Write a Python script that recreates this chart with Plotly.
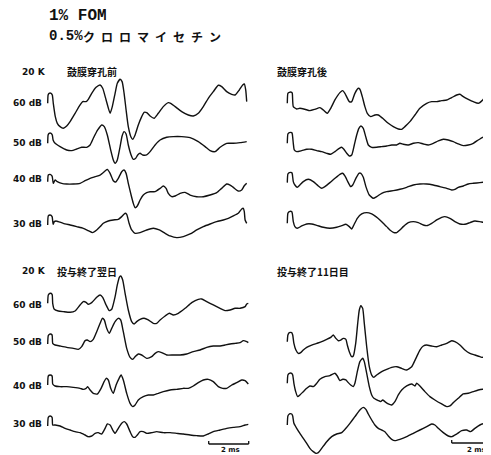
import plotly.graph_objects as go

# ---------------- text ----------------
TITLE_LINE1 = "1% FOM"
TITLE_LINE2_A = "0.5%"
TITLE_LINE2_B = ["ク", "ロ", "ロ", "マ", "イ", "セ", "チ", "ン"]
FREQ_LABEL = "20 K"
PANEL_TITLES = ["鼓膜穿孔前", "鼓膜穿孔後", "投与終了翌日", "投与終了11日目"]
LEVEL_LABELS = ["60 dB", "50 dB", "40 dB", "30 dB"]
SCALE_LABEL = "2 ms"
SCALE_MS = 2.0

# ---------------- waveforms: (time ms, amplitude a.u.) ----------------
# panel 1: before perforation
P1_60 = [(0,0),(.02,25),(.07,30),(.17,30),(.23,25),(.28,0),(.38,-40),(.48,-60),(.62,-70),(.78,-75),
         (.95,-68),(1.12,-55),(1.37,-30),(1.62,-5),(1.75,5),(1.92,5),(2.03,12),(2.2,30),(2.42,48),(2.62,55),
         (2.75,45),(2.92,10),(3.12,-30),(3.23,-10),(3.37,30),(3.48,60),(3.62,72),(3.72,65),(3.82,30),(3.92,-20),
         (4.03,-70),(4.17,-102),(4.25,-108),(4.37,-95),(4.53,-65),(4.7,-40),(4.82,-27),(4.95,-28),(5.12,-38),(5.32,-45),
         (5.53,-30),(5.78,-10),(6.03,2),(6.15,0),(6.37,-10),(6.7,-25),(7.03,-35),(7.28,-38),(7.53,-30),(7.78,-10),
         (8.03,15),(8.28,35),(8.53,54),(8.7,50),(8.95,35),(9.2,27),(9.37,25),(9.58,40),(9.75,55),(9.83,58),
         (9.9,40),(9.95,5)]
P1_50 = [(0,0),(.02,25),(.07,30),(.17,30),(.23,25),(.27,10),(.37,0),(.62,-10),(.95,-20),(1.2,-22),
         (1.45,-17),(1.7,-12),(1.95,-12),(2.12,-5),(2.28,15),(2.5,40),(2.7,55),(2.83,50),(2.98,25),(3.15,-20),
         (3.28,-50),(3.37,-60),(3.48,-50),(3.62,-10),(3.72,22),(3.82,35),(3.92,28),(4.03,-5),(4.17,-35),(4.28,-48),
         (4.4,-45),(4.5,-35),(4.62,-30),(4.75,-35),(4.95,-35),(5.12,-25),(5.37,-5),(5.62,10),(5.95,18),(6.28,20),
         (6.7,20),(7.12,17),(7.53,5),(7.87,-10),(8.12,-22),(8.37,-25),(8.62,-12),(8.95,0),(9.28,0),(9.62,2),(9.95,5)]
P1_40 = [(0,0),(.03,20),(.12,22),(.22,17),(.28,-5),(.37,5),(.48,0),(.7,-5),(.95,-7),(1.28,-7),
         (1.62,-5),(1.87,3),(2.12,10),(2.37,15),(2.62,20),(2.87,32),(2.98,37),(3.12,25),(3.28,3),(3.4,-1),
         (3.53,10),(3.7,30),(3.82,35),(3.92,25),(4.03,-5),(4.17,-40),(4.28,-65),(4.37,-78),(4.48,-73),(4.62,-55),
         (4.78,-40),(4.95,-33),(5.12,-30),(5.37,-30),(5.62,-20),(5.78,-13),(5.92,-20),(6.03,-35),(6.2,-45),(6.37,-43),
         (6.62,-35),(6.87,-32),(7.12,-40),(7.45,-45),(7.78,-45),(8.12,-40),(8.45,-33),(8.7,-20),(8.95,-7),(9.12,-10),
         (9.28,-17),(9.53,-28),(9.7,-25),(9.82,-13),(9.95,-5)]
P1_30 = [(0,-2),(.03,25),(.12,28),(.22,23),(.27,0),(.33,8),(.42,10),(.53,8),(.78,3),(1.12,-2),
         (1.45,-7),(1.78,-12),(2.03,-19),(2.25,-25),(2.45,-17),(2.62,-7),(2.78,3),(3.03,10),(3.28,13),(3.53,15),
         (3.7,23),(3.87,33),(3.95,30),(4.07,3),(4.2,-17),(4.37,-27),(4.62,-25),(4.95,-17),(5.28,-12),(5.58,-17),
         (5.87,-27),(6.12,-35),(6.45,-40),(6.78,-37),(7.12,-29),(7.45,-17),(7.78,-7),(8.12,1),(8.45,8),(8.78,13),
         (9.03,18),(9.28,25),(9.53,33),(9.7,46),(9.78,48),(9.83,38),(9.87,13),(9.95,3)]

# panel 2: after perforation
P2_60 = [(0,0),(.03,30),(.1,33),(.22,33),(.25,30),(.3,-10),(.47,-17),(.63,-15),(.88,-18),(1.13,-22),
         (1.38,-18),(1.63,-13),(1.8,-20),(2.0,-30),(2.17,-15),(2.38,10),(2.63,32),(2.77,38),(2.88,30),(3.1,5),
         (3.22,5),(3.38,30),(3.55,45),(3.63,42),(3.75,20),(3.88,-10),(4.0,-30),(4.17,-40),(4.38,-35),(4.55,-35),
         (4.77,-45),(5.05,-60),(5.3,-70),(5.55,-77),(5.72,-78),(5.88,-70),(6.13,-55),(6.38,-35),(6.63,-15),(6.97,0),
         (7.22,5),(7.47,5),(7.72,8),(7.97,10),(8.22,17),(8.47,25),(8.63,27),(8.8,20),(9.05,12),(9.3,5),
         (9.55,0),(9.77,10),(9.88,18),(9.97,15),(10.02,0)]
P2_50 = [(0,0),(.03,28),(.1,32),(.22,32),(.25,28),(.3,0),(.35,-20),(.47,-25),(.72,-22),(.97,-18),
         (1.22,-18),(1.47,-22),(1.72,-25),(1.97,-30),(2.17,-33),(2.38,-25),(2.6,-15),(2.72,-12),(2.83,-18),(2.97,-30),
         (3.1,-38),(3.22,-35),(3.35,-5),(3.47,25),(3.58,45),(3.68,52),(3.8,45),(3.92,20),(4.05,-5),(4.22,-12),
         (4.47,-12),(4.72,-10),(4.97,-8),(5.22,-5),(5.47,-5),(5.63,0),(5.8,-3),(6.05,-5),(6.3,0),(6.55,2),
         (6.8,-2),(7.05,-5),(7.3,0),(7.55,7),(7.8,12),(8.05,10),(8.3,5),(8.55,-2),(8.8,-7),(9.05,-5),
         (9.3,0),(9.55,10),(9.77,18),(9.88,20),(10.0,10),(10.05,2)]
P2_40 = [(0,2),(.03,28),(.1,32),(.22,32),(.25,28),(.3,5),(.38,-5),(.5,-12),(.63,-5),(.8,5),
         (1.05,12),(1.3,5),(1.55,-8),(1.72,-15),(1.88,-10),(2.13,2),(2.38,15),(2.63,27),(2.77,30),(2.88,22),
         (3.05,2),(3.17,-10),(3.27,-5),(3.43,15),(3.58,30),(3.68,30),(3.8,18),(3.93,-10),(4.1,-35),(4.3,-45),
         (4.47,-40),(4.72,-30),(4.97,-25),(5.3,-22),(5.63,-18),(5.97,-12),(6.3,-5),(6.63,-2),(6.97,-2),(7.3,-5),
         (7.63,-10),(7.97,-15),(8.22,-20),(8.38,-18),(8.55,-12),(8.8,-8),(9.05,-2),(9.3,0),(9.63,2),(10.05,5)]
P2_30 = [(0,0),(.03,30),(.1,35),(.22,35),(.25,30),(.3,5),(.38,-10),(.5,-15),(.72,-8),(.97,-2),
         (1.22,-2),(1.47,-6),(1.8,-12),(2.13,-15),(2.47,-12),(2.72,-7),(2.93,-3),(3.1,-10),(3.22,-17),(3.33,-5),
         (3.5,15),(3.72,28),(3.97,32),(4.22,28),(4.43,20),(4.63,10),(4.8,0),(4.97,-10),(5.13,-20),(5.3,-27),
         (5.47,-28),(5.63,-20),(5.8,-10),(6.05,2),(6.3,5),(6.55,2),(6.8,-5),(6.97,-7),(7.22,0),(7.47,10),
         (7.72,18),(7.88,20),(8.13,15),(8.38,5),(8.63,-2),(8.88,-3),(9.13,2),(9.38,7),(9.63,5),(9.88,2),(10.05,2)]

# panel 3: day after end of administration
P3_60 = [(0,0),(.03,25),(.12,30),(.22,27),(.25,0),(.33,-18),(.53,-23),(.78,-25),(1.12,-27),(1.37,-23),
         (1.62,-5),(1.78,5),(1.92,3),(2.03,-3),(2.2,2),(2.45,18),(2.62,25),(2.75,18),(2.92,-5),(3.08,-22),
         (3.2,-18),(3.37,20),(3.48,55),(3.58,78),(3.65,82),(3.75,70),(3.87,30),(4.03,-20),(4.2,-55),(4.32,-62),
         (4.45,-55),(4.62,-48),(4.82,-45),(5.03,-50),(5.28,-60),(5.45,-60),(5.62,-50),(5.87,-38),(6.08,-30),(6.28,-35),
         (6.53,-30),(6.87,-15),(7.2,2),(7.53,12),(7.7,13),(7.95,5),(8.28,-5),(8.62,-15),(8.87,-22),(9.12,-20),
         (9.37,-15),(9.62,-15),(9.87,-10),(9.95,-2),(10.03,0)]
P3_50 = [(0,0),(.03,25),(.12,30),(.22,27),(.25,2),(.37,-3),(.62,-6),(.95,-10),(1.28,-13),(1.53,-16),
         (1.7,-8),(1.87,10),(1.98,12),(2.12,7),(2.28,14),(2.45,37),(2.62,62),(2.73,77),(2.83,72),(2.95,47),
         (3.08,32),(3.2,47),(3.37,67),(3.53,77),(3.65,72),(3.78,37),(3.95,-13),(4.12,-40),(4.25,-46),(4.37,-38),
         (4.53,-30),(4.7,-33),(4.95,-43),(5.2,-38),(5.37,-28),(5.53,-23),(5.7,-26),(5.95,-33),(6.28,-33),(6.62,-33),
         (6.95,-30),(7.28,-23),(7.62,-18),(7.95,-10),(8.28,-6),(8.62,-6),(8.87,-3),(9.12,0),(9.37,2),(9.62,4),
         (9.78,10),(9.95,7),(10.03,4)]
P3_40 = [(0,0),(.03,27),(.12,30),(.22,27),(.25,3),(.37,-3),(.62,-5),(.95,-5),(1.28,-7),(1.62,-10),
         (1.78,-13),(1.92,-10),(2.0,-5),(2.12,-15),(2.28,-25),(2.48,-27),(2.67,-10),(2.82,10),(2.92,20),(3.03,15),
         (3.15,-10),(3.28,-25),(3.42,0),(3.57,20),(3.67,30),(3.78,15),(3.95,-25),(4.12,-55),(4.25,-65),(4.37,-60),
         (4.53,-45),(4.78,-35),(5.03,-30),(5.28,-30),(5.53,-25),(5.78,-20),(6.12,-15),(6.45,-13),(6.78,-10),(7.03,-10),
         (7.28,-3),(7.53,7),(7.78,15),(8.03,17),(8.28,10),(8.53,-5),(8.75,-10),(8.95,-10),(9.2,0),(9.45,7),
         (9.7,15),(9.87,13),(10.03,3)]
P3_30 = [(0,0),(.03,26),(.12,30),(.22,26),(.25,3),(.37,3),(.62,0),(.87,-7),(1.12,-12),(1.37,-17),
         (1.62,-20),(1.87,-27),(2.03,-32),(2.2,-30),(2.37,-22),(2.53,-20),(2.7,-24),(2.87,-7),(2.98,6),(3.12,3),
         (3.25,-12),(3.37,-22),(3.53,-7),(3.7,8),(3.83,13),(3.95,6),(4.12,-17),(4.25,-32),(4.37,-34),(4.48,-27),
         (4.62,-17),(4.78,-17),(4.95,-22),(5.2,-20),(5.45,-17),(5.78,-20),(6.12,-20),(6.45,-22),(6.78,-24),(7.12,-27),
         (7.45,-29),(7.78,-30),(8.03,-24),(8.28,-17),(8.62,-12),(8.95,-7),(9.28,-4),(9.62,-2),(9.87,3),(10.03,5)]

# panel 4: 11th day after end of administration
P4_60 = [(0,0),(.03,20),(.1,27),(.22,27),(.27,20),(.33,-5),(.43,-25),(.55,-35),(.67,-33),(.8,-25),
         (.97,-17),(1.22,-10),(1.47,-5),(1.72,0),(1.97,7),(2.17,13),(2.3,20),(2.43,10),(2.55,3),(2.67,5),
         (2.8,10),(2.93,7),(3.0,-10),(3.1,-30),(3.22,-45),(3.3,-43),(3.42,-5),(3.52,55),(3.6,95),(3.68,108),
         (3.77,100),(3.85,55),(3.97,-15),(4.1,-75),(4.22,-100),(4.33,-107),(4.47,-100),(4.72,-90),(4.97,-83),(5.22,-77),
         (5.47,-75),(5.72,-80),(5.97,-85),(6.22,-75),(6.43,-50),(6.63,-25),(6.8,-13),(6.97,-10),(7.22,-13),(7.47,-15),
         (7.72,-10),(7.97,-5),(8.22,3),(8.38,0),(8.63,-10),(8.88,-25),(9.13,-35),(9.38,-40),(9.63,-45),(9.77,-47),
         (9.88,-40),(10.02,-20),(10.13,-5)]
P4_50 = [(0,0),(.03,25),(.1,30),(.22,30),(.27,25),(.33,0),(.42,-25),(.52,-40),(.63,-35),(.8,-25),
         (.97,-15),(1.13,-8),(1.3,-10),(1.47,0),(1.63,12),(1.88,20),(2.13,23),(2.38,30),(2.5,22),(2.63,8),
         (2.77,12),(2.93,10),(3.05,2),(3.17,-5),(3.3,-10),(3.38,0),(3.5,35),(3.63,65),(3.77,75),(3.85,65),
         (3.97,30),(4.1,-10),(4.22,-35),(4.33,-45),(4.43,-48),(4.55,-52),(4.67,-55),(4.77,-50),(4.88,-55),(5.05,-62),
         (5.22,-65),(5.38,-55),(5.55,-35),(5.72,-20),(5.97,-8),(6.22,-2),(6.38,-8),(6.47,0),(6.63,-8),(6.88,-25),
         (7.13,-40),(7.38,-50),(7.72,-62),(7.97,-70),(8.13,-68),(8.3,-58),(8.55,-45),(8.8,-32),(9.05,-30),(9.3,-25),
         (9.55,-20),(9.77,-18),(9.93,-18),(10.05,-5),(10.13,2)]
P4_40 = [(0,0),(.03,27),(.1,33),(.22,33),(.27,27),(.33,5),(.47,-10),(.63,-25),(.8,-40),(.97,-55),
         (1.13,-70),(1.3,-80),(1.43,-85),(1.55,-83),(1.72,-70),(1.97,-50),(2.22,-35),(2.47,-27),(2.72,-23),(2.93,-10),
         (3.13,5),(3.38,25),(3.63,45),(3.8,53),(3.93,47),(4.05,33),(4.22,15),(4.38,0),(4.55,-10),(4.72,-15),
         (4.88,-20),(5.05,-33),(5.22,-43),(5.38,-47),(5.63,-43),(5.97,-35),(6.3,-25),(6.63,-15),(6.97,-5),(7.22,3),
         (7.38,0),(7.55,-10),(7.8,-23),(8.05,-33),(8.22,-35),(8.47,-27),(8.72,-17),(8.97,-15),(9.17,-20),(9.38,-10),
         (9.63,0),(9.88,5),(10.13,7)]

PANELS = [
    {"title": PANEL_TITLES[0], "traces": [P1_60, P1_50, P1_40, P1_30], "labels": LEVEL_LABELS},
    {"title": PANEL_TITLES[1], "traces": [P2_60, P2_50, P2_40, P2_30], "labels": None},
    {"title": PANEL_TITLES[2], "traces": [P3_60, P3_50, P3_40, P3_30], "labels": LEVEL_LABELS},
    {"title": PANEL_TITLES[3], "traces": [P4_60, P4_50, P4_40], "labels": None},
]

# ---------------- layout (page pixel geometry) ----------------
PAGE_W, PAGE_H = 491, 455
BODY_MARGIN = 8                      # default browser body margin around the plot div
W, H = PAGE_W - BODY_MARGIN, PAGE_H - BODY_MARGIN
PX_PER_MS = 20.0
AMP_PX = 1.0 / 3.0                   # pixels per amplitude unit
PANEL_X0_PX = [47.7, 287.3, 47.7, 287.3]
PANEL_BASE_PX = [[103.3, 143.3, 181.7, 224.3],
                 [103.3, 143.3, 183.3, 223.3],
                 [303.3, 344.0, 385.0, 426.0],
                 [341.7, 383.3, 425.0]]
PANEL_TITLE_POS = [(65, 72), (275, 71), (55, 271), (275, 271)]
FREQ_POS = [(20, 72), None, (20, 271), None]
LABEL_DY = [[0, 0, -3, 0], None, [2, -2, 1, -2], None]
SCALEBARS = [(2, 8.05, 444, True, 1.5), (3, 8.22, 443, False, 4.5)]

INK = "#111111"
CJK = "Noto Sans CJK JP"
MONO = "Liberation Mono"

def px(xp):
    return (xp - BODY_MARGIN) / W
def py(yp):
    return 1 - (yp - BODY_MARGIN) / H

fig = go.Figure()
for pi, panel in enumerate(PANELS):
    x0_ms = PANEL_X0_PX[pi] / PX_PER_MS
    for ti, wave in enumerate(panel["traces"]):
        base = PANEL_BASE_PX[pi][ti]
        fig.add_trace(go.Scatter(
            x=[x0_ms + t for t, a in wave],
            y=[-(base - a * AMP_PX) for t, a in wave],
            mode="lines",
            line=dict(color=INK, width=1.4, shape="spline", smoothing=0.5),
            hoverinfo="skip", showlegend=False))

annotations = []
annotations.append(dict(text="<b>" + TITLE_LINE1 + "</b>", x=px(47), y=py(16), xref="paper", yref="paper",
                        xanchor="left", yanchor="middle", showarrow=False, height=14, valign="middle",
                        font=dict(family=MONO, size=16, color=INK)))
annotations.append(dict(text="<b>" + TITLE_LINE2_A + "</b>", x=px(47), y=py(36), xref="paper", yref="paper",
                        xanchor="left", yanchor="middle", showarrow=False,
                        font=dict(family=MONO, size=14, color=INK)))
annotations.append(dict(text="<b>" + "\u2002".join(TITLE_LINE2_B) + "</b>", x=px(81), y=py(36),
                        xref="paper", yref="paper",
                        xanchor="left", yanchor="middle", showarrow=False,
                        font=dict(family=CJK, size=12, color=INK)))
for pi, panel in enumerate(PANELS):
    tx, ty = PANEL_TITLE_POS[pi]
    annotations.append(dict(text="<b>" + panel["title"] + "</b>", x=px(tx), y=py(ty), xref="paper", yref="paper",
                            xanchor="left", yanchor="middle", showarrow=False,
                            font=dict(family=CJK, size=10, color=INK)))
    if FREQ_POS[pi]:
        fx, fy = FREQ_POS[pi]
        annotations.append(dict(text="<b>" + FREQ_LABEL + "</b>", x=px(fx), y=py(fy), xref="paper", yref="paper",
                                xanchor="left", yanchor="middle", showarrow=False,
                                font=dict(family="DejaVu Sans", size=9, color=INK)))
    if panel["labels"]:
        for li, lab in enumerate(panel["labels"]):
            ly = PANEL_BASE_PX[pi][li] + LABEL_DY[pi][li]
            annotations.append(dict(text="<b>" + lab + "</b>", x=px(44), y=py(ly), xref="paper", yref="paper",
                                    xanchor="right", yanchor="middle", showarrow=False,
                                    font=dict(family="DejaVu Sans", size=9, color=INK)))

shapes = []
for pi, t0, ybar, right_tick, lab_dx in SCALEBARS:
    x0 = PANEL_X0_PX[pi] / PX_PER_MS + t0
    x1 = x0 + SCALE_MS
    shapes.append(dict(type="line", xref="x", yref="y", x0=x0, x1=x1, y0=-ybar, y1=-ybar,
                       line=dict(color=INK, width=1.3)))
    shapes.append(dict(type="line", xref="x", yref="y", x0=x0, x1=x0, y0=-ybar, y1=-ybar + 3,
                       line=dict(color=INK, width=1.3)))
    if right_tick:
        shapes.append(dict(type="line", xref="x", yref="y", x0=x1, x1=x1, y0=-ybar, y1=-ybar + 3,
                           line=dict(color=INK, width=1.3)))
    annotations.append(dict(text="<b>" + SCALE_LABEL + "</b>", x=(x0 + x1) / 2 + lab_dx / PX_PER_MS,
                            y=-449.5, xref="x", yref="y", xanchor="center", yanchor="middle", showarrow=False,
                            font=dict(family="DejaVu Sans", size=7, color=INK)))

fig.update_layout(
    width=W, height=H, autosize=False,
    margin=dict(l=0, r=0, t=0, b=0),
    paper_bgcolor="white", plot_bgcolor="white",
    xaxis=dict(range=[BODY_MARGIN / PX_PER_MS, PAGE_W / PX_PER_MS], visible=False, fixedrange=True),
    yaxis=dict(range=[-PAGE_H, -BODY_MARGIN], visible=False, fixedrange=True),
    annotations=annotations, shapes=shapes,
)

fig.write_html("out.html")
